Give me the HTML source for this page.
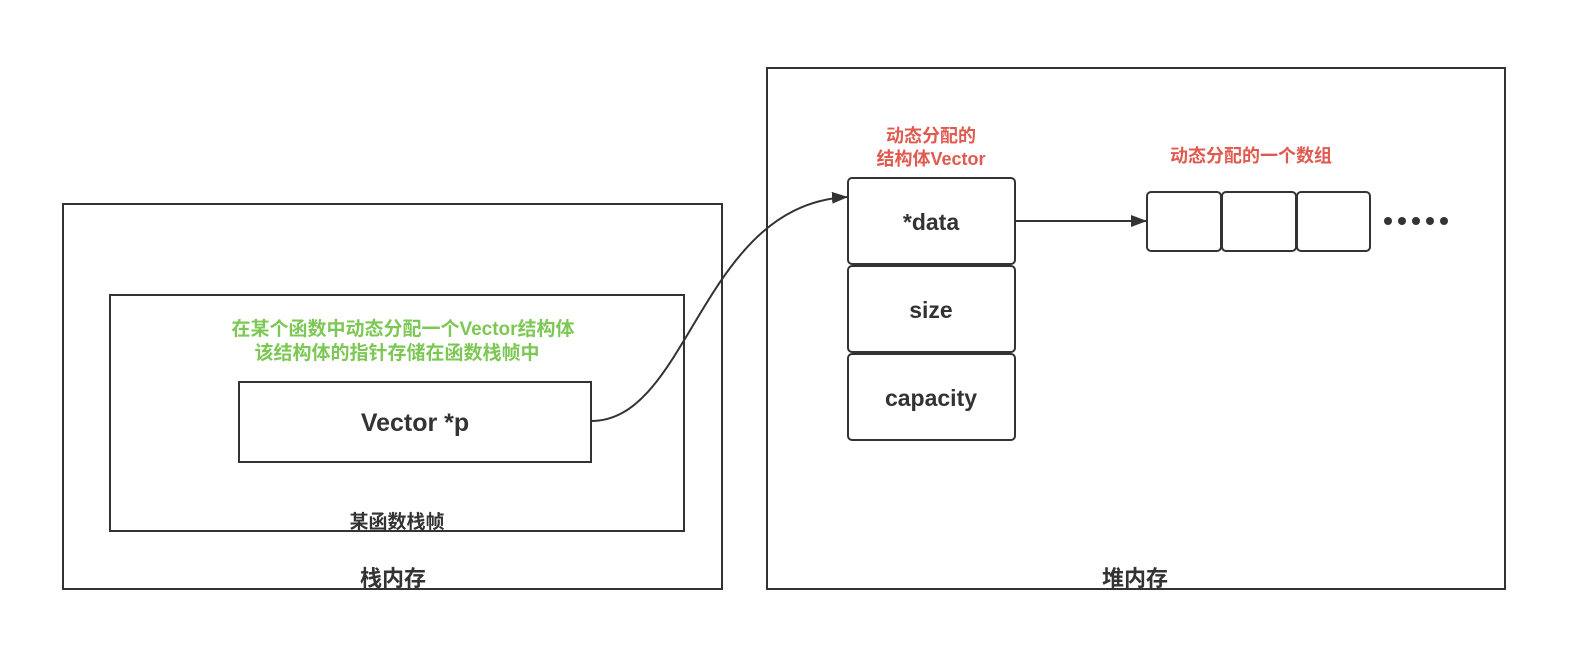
<!DOCTYPE html>
<html><head><meta charset="utf-8"><style>
html,body{margin:0;padding:0;background:#fff;}
svg{display:block;}
text{font-family:"Liberation Sans","Noto Sans CJK SC",sans-serif;font-weight:bold;}
</style></head><body>
<svg width="1584" height="666" viewBox="0 0 1584 666" xmlns="http://www.w3.org/2000/svg">
<defs><marker id="a" markerWidth="16" markerHeight="12" refX="15" refY="6" orient="auto" markerUnits="userSpaceOnUse"><path d="M0,0 L16,6 L0,12 Z" fill="#333"/></marker></defs>
<g fill="none" stroke="#333" stroke-width="2">
<rect x="63" y="204" width="659" height="385"/>
<rect x="110" y="295" width="574" height="236"/>
<rect x="239" y="382" width="352" height="80"/>
<rect x="767" y="68" width="738" height="521"/>
<rect x="848" y="178" width="167" height="86" rx="4"/>
<rect x="848" y="266" width="167" height="86" rx="4"/>
<rect x="848" y="354" width="167" height="86" rx="4"/>
<rect x="1147" y="192" width="74" height="59" rx="4"/>
<rect x="1222" y="192" width="74" height="59" rx="4"/>
<rect x="1297" y="192" width="73" height="59" rx="4"/>
<line x1="1015" y1="221" x2="1146" y2="221" marker-end="url(#a)"/>
<path d="M591,421 C690,421 700,205 847,197" marker-end="url(#a)"/>
</g>
<g fill="#333"><circle cx="1388" cy="221" r="4"/><circle cx="1402" cy="221" r="4"/><circle cx="1416" cy="221" r="4"/><circle cx="1430" cy="221" r="4"/><circle cx="1444" cy="221" r="4"/></g>
<g fill="#333" text-anchor="middle">
<text x="393" y="586" font-size="22">栈内存</text>
<text x="1135" y="586" font-size="22">堆内存</text>
<text x="397" y="528" font-size="19">某函数栈帧</text>
<text x="415" y="431" font-size="25">Vector *p</text>
<text x="931" y="230" font-size="23">*data</text>
<text x="931" y="318" font-size="23">size</text>
<text x="931" y="406" font-size="23">capacity</text>
</g>
<g fill="#7dc855" text-anchor="middle" font-size="19">
<text x="403" y="335">在某个函数中动态分配一个Vector结构体</text>
<text x="397" y="359">该结构体的指针存储在函数栈帧中</text>
</g>
<g fill="#e05a50" text-anchor="middle" font-size="18">
<text x="931" y="142">动态分配的</text>
<text x="931" y="165">结构体Vector</text>
<text x="1251" y="162">动态分配的一个数组</text>
</g>
</svg>
</body></html>
